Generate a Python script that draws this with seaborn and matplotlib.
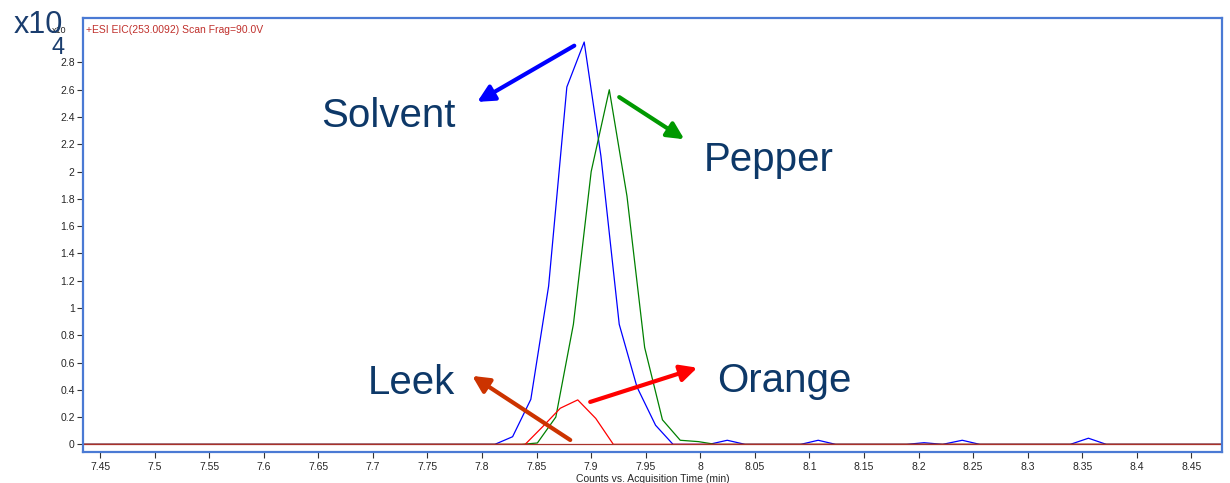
import matplotlib
matplotlib.use("Agg")
import matplotlib.pyplot as plt
import seaborn as sns
import pandas as pd

# retention time (min) and counts (x10^4)
solvent_t = [7.43, 7.8117, 7.828, 7.8447, 7.861, 7.8777, 7.8936, 7.9089, 7.9257, 7.942,
             7.959, 7.975, 8.008, 8.0247, 8.041, 8.092, 8.108, 8.124, 8.189, 8.205,
             8.222, 8.24, 8.256, 8.339, 8.3556, 8.372, 8.48]
solvent_i = [0, 0, 0.056, 0.33, 1.16, 2.62, 2.95, 2.115, 0.88, 0.42,
             0.14, 0, 0, 0.03, 0, 0, 0.03, 0, 0, 0.012,
             0, 0.03, 0, 0, 0.045, 0, 0]

pepper_t = [7.43, 7.8364, 7.8507, 7.8676, 7.8837, 7.900, 7.9166, 7.9328, 7.949,
            7.9653, 7.9816, 7.9983, 8.0137, 8.48]
pepper_i = [0, 0, 0.01, 0.2, 0.88, 2.0, 2.6, 1.82, 0.71, 0.18, 0.03, 0.02, 0, 0]

orange_t = [7.43, 7.8395, 7.8556, 7.8717, 7.8877, 7.9042, 7.9203, 8.48]
orange_i = [0, 0, 0.13, 0.265, 0.326, 0.19, 0, 0]

leek_t = [7.43, 8.48]
leek_i = [0, 0]

x_ticks = [7.45, 7.5, 7.55, 7.6, 7.65, 7.7, 7.75, 7.8, 7.85, 7.9, 7.95,
           8.0, 8.05, 8.1, 8.15, 8.2, 8.25, 8.3, 8.35, 8.4, 8.45]
y_ticks = [0, 0.2, 0.4, 0.6, 0.8, 1.0, 1.2, 1.4, 1.6, 1.8, 2.0, 2.2, 2.4, 2.6, 2.8]

sns.set_style("white")
plt.rcParams['font.family'] = ['Liberation Sans', 'DejaVu Sans']

fig = plt.figure(figsize=(12.3, 4.83), dpi=100)
ax = fig.add_axes([0.0675, 0.0642, 0.926, 0.8985])

traces = [
    (solvent_t, solvent_i, '#0000ff'),
    (pepper_t, pepper_i, '#008000'),
    (orange_t, orange_i, '#ff0000'),
    (leek_t, leek_i, '#a8322a'),
]
for t, i, c in traces:
    df = pd.DataFrame({'t': t, 'i': i})
    sns.lineplot(data=df, x='t', y='i', color=c, lw=0.9, sort=False,
                 estimator=None, ax=ax)

ax.set_xlim(7.4344, 8.478)
ax.set_ylim(-0.056, 3.126)
ax.set_xticks(x_ticks)
ax.set_xticklabels(['%g' % v for v in x_ticks])
ax.set_yticks(y_ticks)
ax.set_yticklabels(['%g' % v for v in y_ticks])
ax.tick_params(axis='both', labelsize=7.5, length=4, width=0.8, color='#333333',
               direction='out', left=True, bottom=True, pad=2)
ax.tick_params(axis='x', pad=3)
ax.set_xlabel('Counts vs. Acquisition Time (min)', fontsize=7.5, labelpad=2)
ax.set_ylabel('')

for s in ax.spines.values():
    s.set_color('#4a7ad4')
    s.set_linewidth(1.6)

ax.text(0.003, 0.985, '+ESI EIC(253.0092) Scan Frag=90.0V', transform=ax.transAxes,
        fontsize=7.5, color='#c0302c', va='top', ha='left')

# scale label
fig.text(0.042, 0.932, 'x10', fontsize=6.5, color='#222222', ha='left', va='baseline')
fig.text(0.011, 0.932, 'x10', fontsize=22, color='#1a3d6e', ha='left', va='baseline')
fig.text(0.042, 0.888, '4', fontsize=17, color='#1a3d6e', ha='left', va='baseline')

navy = '#0d3868'
labels = [
    ('Solvent', (7.714, 2.406), (7.8845, 2.923), (7.7956, 2.511), '#0000ff'),
    ('Pepper', (8.0623, 2.083), (7.9257, 2.546), (7.9853, 2.237), '#009900'),
    ('Leek', (7.735, 0.45), (7.8808, 0.032), (7.791, 0.502), '#cc3300'),
    ('Orange', (8.077, 0.465), (7.8991, 0.311), (7.9972, 0.562), '#ff0000'),
]
for name, pos, start, tip, c in labels:
    ax.text(pos[0], pos[1], name, fontsize=29, color=navy, ha='center', va='center')
    ax.annotate('', xy=tip, xytext=start,
                arrowprops=dict(arrowstyle='-|>,head_length=1.0,head_width=0.5',
                                color=c, lw=3, shrinkA=0, shrinkB=0))

fig.savefig('out.png', dpi=100)
